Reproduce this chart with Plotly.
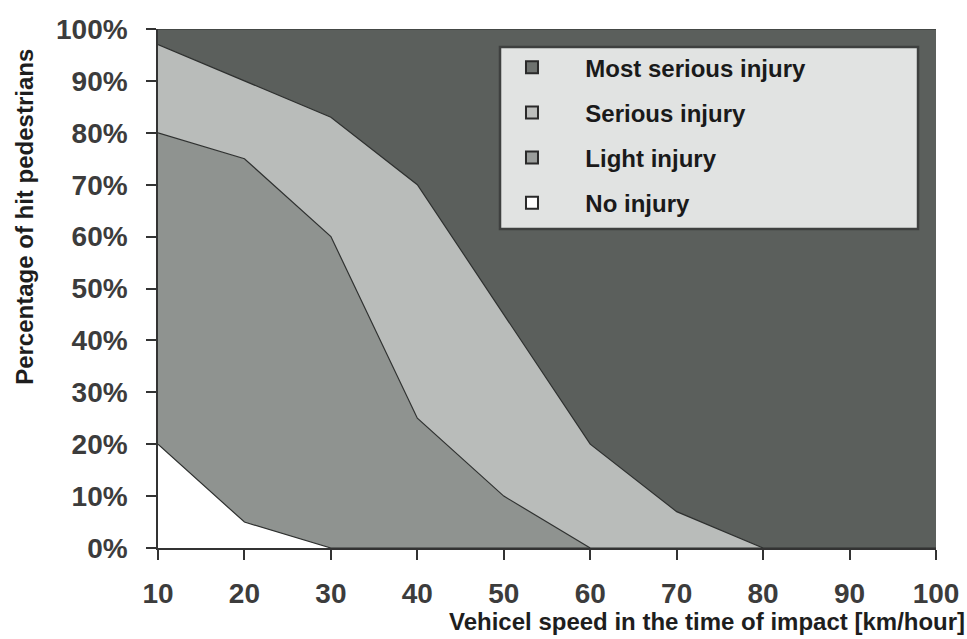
import plotly.graph_objects as go

speeds = [10, 20, 30, 40, 50, 60, 70, 80, 90, 100]
no_injury = [20, 5, 0, 0, 0, 0, 0, 0, 0, 0]
light_injury = [60, 70, 60, 25, 10, 0, 0, 0, 0, 0]
serious_injury = [17, 15, 23, 45, 35, 20, 7, 0, 0, 0]
most_serious_injury = [3, 10, 17, 30, 55, 80, 93, 100, 100, 100]

series_names = ["No injury", "Light injury", "Serious injury", "Most serious injury"]
series_values = [no_injury, light_injury, serious_injury, most_serious_injury]
fill_colors = ["#ffffff", "#8f9390", "#b9bcba", "#5b5f5c"]
legend_colors = ["#ffffff", "#9a9d9b", "#bcbebc", "#6e726f"]

y_ticks = list(range(0, 101, 10))
y_tick_labels = [f"{v}%" for v in y_ticks]

fig = go.Figure()
for name, vals, col in zip(series_names, series_values, fill_colors):
    fig.add_trace(go.Scatter(
        x=speeds, y=vals, name=name, stackgroup="one", mode="lines",
        line=dict(color="#2e302f", width=1.2), fillcolor=col,
        showlegend=False, hoverinfo="x+y+name",
    ))

# legend entries (square symbols), top to bottom
pad = "\u00a0" * 5
for i in [3, 2, 1, 0]:
    fig.add_trace(go.Scatter(
        x=[None], y=[None], mode="markers", name=pad + series_names[i],
        legendgroup=series_names[i],
        marker=dict(symbol="square", size=17, color=legend_colors[i],
                    line=dict(color="#2a2a2a", width=1.5)),
    ))

font_family = "Liberation Sans, Arial, sans-serif"

fig.update_layout(
    width=967, height=639,
    margin=dict(l=158, r=31, t=29, b=91, autoexpand=False),
    plot_bgcolor="#ffffff", paper_bgcolor="#ffffff",
    font=dict(family=font_family, color="#3a3a3a"),
    showlegend=True,
    legend=dict(
        x=0.455, y=0.969, xanchor="left", yanchor="top",
        bgcolor="rgba(0,0,0,0)", borderwidth=0,
        font=dict(size=24, color="#1a1a1a", family=font_family, weight="bold"),
        tracegroupgap=11, itemsizing="constant",
    ),
    shapes=[dict(
        type="rect", xref="paper", yref="paper",
        x0=0.4396, x1=0.9769, y0=0.6146, y1=0.9653,
        fillcolor="#e1e3e2", line=dict(color="#3e403f", width=2.5),
        layer="above",
    )],
    xaxis=dict(
        range=[10, 100], tickmode="array", tickvals=speeds,
        ticks="outside", ticklen=10, tickwidth=1.5, tickcolor="#333333",
        showline=True, linecolor="#333333", linewidth=1.5,
        showgrid=False, zeroline=False, automargin=False,
        tickfont=dict(size=28, color="#3c3c3c", weight="bold"),
        ticklabelstandoff=10,
    ),
    yaxis=dict(
        range=[0, 100], tickmode="array", tickvals=y_ticks, ticktext=y_tick_labels,
        ticks="outside", ticklen=10, tickwidth=1.5, tickcolor="#333333",
        showline=True, linecolor="#333333", linewidth=1.5,
        showgrid=False, zeroline=False, automargin=False,
        tickfont=dict(size=28, color="#3c3c3c", weight="bold"),
        ticklabelstandoff=13,
    ),
    annotations=[
        dict(text="<b>Vehicel speed in the time of impact [km/hour]</b>",
             xref="paper", yref="paper", x=1.0399, y=-0.1407,
             xanchor="right", yanchor="middle", showarrow=False,
             font=dict(size=24, color="#1e1e1e")),
        dict(text="<b>Percentage of hit pedestrians</b>",
             xref="paper", yref="paper", x=-0.171, y=0.638,
             xanchor="center", yanchor="middle", textangle=-90, showarrow=False,
             font=dict(size=24, color="#1e1e1e")),
    ],
)

fig.write_html(
    "out.html",
    config={"displayModeBar": False},
    post_script="document.body.style.margin='0';document.body.style.overflow='hidden';",
)
